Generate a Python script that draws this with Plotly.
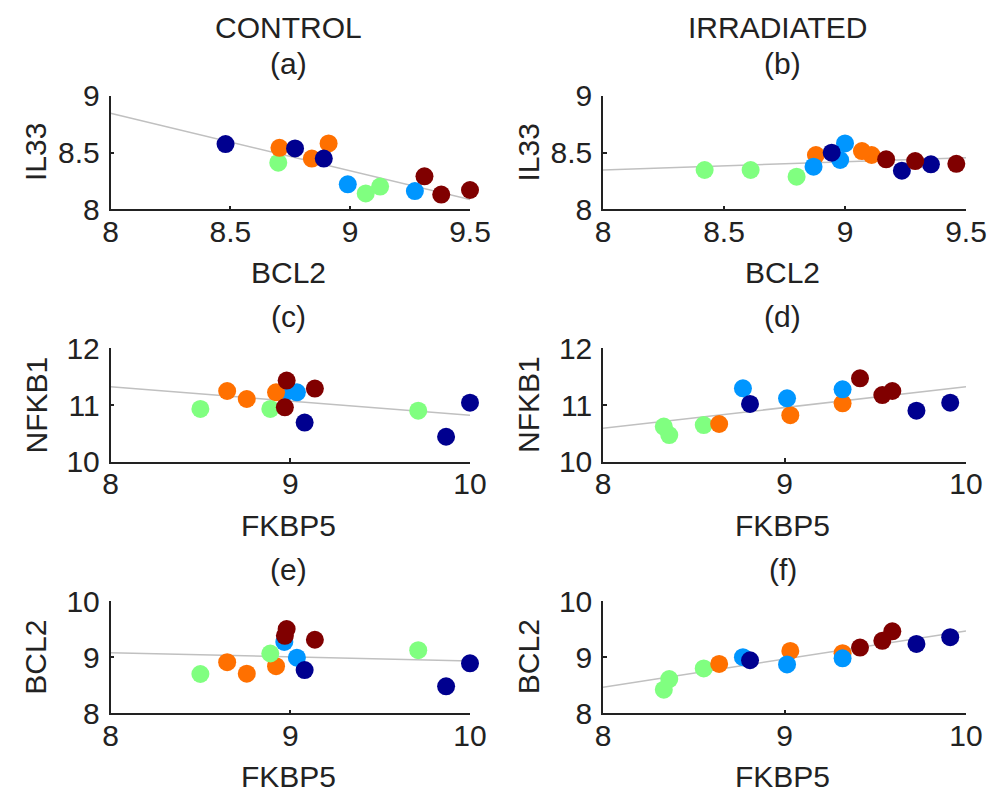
import plotly.graph_objects as go

# ---------------- data ----------------
colors = {"g1": "#00008F", "g2": "#0096FF", "g3": "#80FF80", "g4": "#FF7000", "g5": "#800000"}

# control samples
ctrl_group = ["g3", "g2", "g2", "g4", "g4", "g4", "g3", "g3", "g1", "g1", "g1", "g5", "g5", "g5"]
ctrl_fkbp5 = [8.50, 8.967, 9.037, 8.649, 8.758, 8.921, 8.889, 9.712, 9.08, 9.867, 10.0, 8.98, 8.97, 9.137]
ctrl_nfkb1 = [10.93, 11.21, 11.224, 11.247, 11.106, 11.224, 10.93, 10.90, 10.69, 10.44, 11.04, 11.43, 10.96, 11.29]
ctrl_bcl2 = [8.70, 9.27, 8.99, 8.91, 8.705, 8.84, 9.065, 9.125, 8.77, 8.48, 8.89, 9.50, 9.38, 9.31]
ctrl_il33 = [8.41, 8.16, 8.22, 8.58, 8.541, 8.447, 8.14, 8.20, 8.536, 8.574, 8.447, 8.17, 8.13, 8.29]

# irradiated samples
irr_group = ["g3", "g3", "g3", "g4", "g4", "g4", "g2", "g2", "g2", "g1", "g1", "g1", "g5", "g5", "g5"]
irr_fkbp5 = [8.335, 8.365, 8.555, 8.64, 9.032, 9.32, 8.771, 9.014, 9.32, 8.81, 9.727, 9.913, 9.416, 9.539, 9.594]
irr_nfkb1 = [10.62, 10.47, 10.647, 10.665, 10.82, 11.03, 11.295, 11.118, 11.277, 11.018, 10.90, 11.04, 11.47, 11.176, 11.247]
irr_bcl2 = [8.42, 8.61, 8.80, 8.88, 9.11, 9.07, 9.00, 8.87, 8.98, 8.945, 9.235, 9.355, 9.17, 9.29, 9.46]
irr_il33 = [8.346, 8.346, 8.287, 8.478, 8.478, 8.513, 8.58, 8.375, 8.434, 8.498, 8.34, 8.396, 8.44, 8.425, 8.40]

# fitted trend lines (endpoints)
fit_a_x, fit_a_y = [8, 9.5], [8.845, 8.086]
fit_b_x, fit_b_y = [8, 9.5], [8.346, 8.454]
fit_c_x, fit_c_y = [8, 10], [11.32, 10.82]
fit_d_x, fit_d_y = [8, 10], [10.59, 11.32]
fit_e_x, fit_e_y = [8, 10], [9.08, 8.93]
fit_f_x, fit_f_y = [8, 10], [8.465, 9.465]

panel_letters = ["(a)", "(b)", "(c)", "(d)", "(e)", "(f)"]
col_titles = ["CONTROL", "IRRADIATED"]
x_titles = ["BCL2", "FKBP5", "FKBP5"]
y_titles = ["IL33", "NFKB1", "BCL2"]

xticks_r1 = [8, 8.5, 9, 9.5]
xticks_other = [8, 9, 10]
yticks = [[8, 8.5, 9], [10, 11, 12], [8, 9, 10]]
x_ranges = [[8, 9.5], [8, 10], [8, 10]]
y_ranges = [[8, 9], [10, 12], [8, 10]]

# ---------------- layout ----------------
W, H = 990, 795
FONT = "Liberation Sans, Arial, sans-serif"
INK = "#222222"
col_px = [(110.5, 470.0), (603.0, 966.0)]
row_px = [(95.7, 209.3), (348.3, 461.7), (601.0, 713.3)]

panels = [
    (ctrl_bcl2, ctrl_il33, ctrl_group, fit_a_x, fit_a_y),
    (irr_bcl2, irr_il33, irr_group, fit_b_x, fit_b_y),
    (ctrl_fkbp5, ctrl_nfkb1, ctrl_group, fit_c_x, fit_c_y),
    (irr_fkbp5, irr_nfkb1, irr_group, fit_d_x, fit_d_y),
    (ctrl_fkbp5, ctrl_bcl2, ctrl_group, fit_e_x, fit_e_y),
    (irr_fkbp5, irr_bcl2, irr_group, fit_f_x, fit_f_y),
]

fig = go.Figure()
layout = dict(
    width=W, height=H, autosize=False,
    margin=dict(l=0, r=0, t=0, b=0, pad=0, autoexpand=False),
    paper_bgcolor="white", plot_bgcolor="white",
    showlegend=False,
    font=dict(family=FONT, size=30, color=INK),
)
annotations = []


def fmt(v):
    return f"{v:g}"


for i, (xs, ys, grp, fx, fy) in enumerate(panels):
    r, c = divmod(i, 2)
    n = i + 1
    xa = "x" if n == 1 else f"x{n}"
    ya = "y" if n == 1 else f"y{n}"
    fig.add_trace(go.Scatter(x=fx, y=fy, mode="lines", xaxis=xa, yaxis=ya,
                             line=dict(color="#C0C0C0", width=1.5), hoverinfo="skip"))
    fig.add_trace(go.Scatter(x=xs, y=ys, mode="markers", xaxis=xa, yaxis=ya,
                             marker=dict(size=18, color=[colors[g] for g in grp], line=dict(width=0)),
                             cliponaxis=False))
    x0, x1 = col_px[c]
    y0, y1 = row_px[r]
    xt = xticks_r1 if r == 0 else xticks_other
    axis_common = dict(showgrid=False, zeroline=False, showline=True, linecolor=INK,
                       linewidth=1.5, mirror=False, ticks="inside", ticklen=4, tickwidth=1.5,
                       tickcolor=INK, automargin=False,
                       tickfont=dict(family=FONT, size=30, color=INK))
    layout["xaxis" if n == 1 else f"xaxis{n}"] = dict(
        domain=[x0 / W, x1 / W], anchor=ya, range=x_ranges[r], ticklabelstandoff=-5,
        tickvals=xt, ticktext=[fmt(v) for v in xt], **axis_common)
    layout["yaxis" if n == 1 else f"yaxis{n}"] = dict(
        domain=[1 - y1 / H, 1 - y0 / H], anchor=xa, range=y_ranges[r], ticklabelstandoff=3,
        tickvals=yticks[r], ticktext=[fmt(v) for v in yticks[r]], **axis_common)

    cx = (x0 + x1) / 2 - 2
    letter_y = y0 - 32
    annotations.append(dict(text=panel_letters[i], x=cx / W, y=1 - letter_y / H, xref="paper", yref="paper",
                            showarrow=False, xanchor="center", yanchor="middle",
                            font=dict(family=FONT, size=30, color=INK)))
    annotations.append(dict(text=x_titles[r], x=cx / W, y=1 - (y1 + 63.5) / H, xref="paper", yref="paper",
                            showarrow=False, xanchor="center", yanchor="middle",
                            font=dict(family=FONT, size=30, color=INK)))
    annotations.append(dict(text=y_titles[r], x=(x0 - 75) / W, y=1 - ((y0 + y1) / 2) / H, xref="paper",
                            yref="paper", showarrow=False, xanchor="center", yanchor="middle", textangle=-90,
                            font=dict(family=FONT, size=30, color=INK)))

for c, t in enumerate(col_titles):
    cx = [288, 777][c]
    annotations.append(dict(text=t, x=cx / W, y=1 - 27.5 / H, xref="paper", yref="paper",
                            showarrow=False, xanchor="center", yanchor="middle",
                            font=dict(family=FONT, size=30, color=INK)))

layout["annotations"] = annotations
fig.update_layout(**layout)
fig.write_html("out.html")
